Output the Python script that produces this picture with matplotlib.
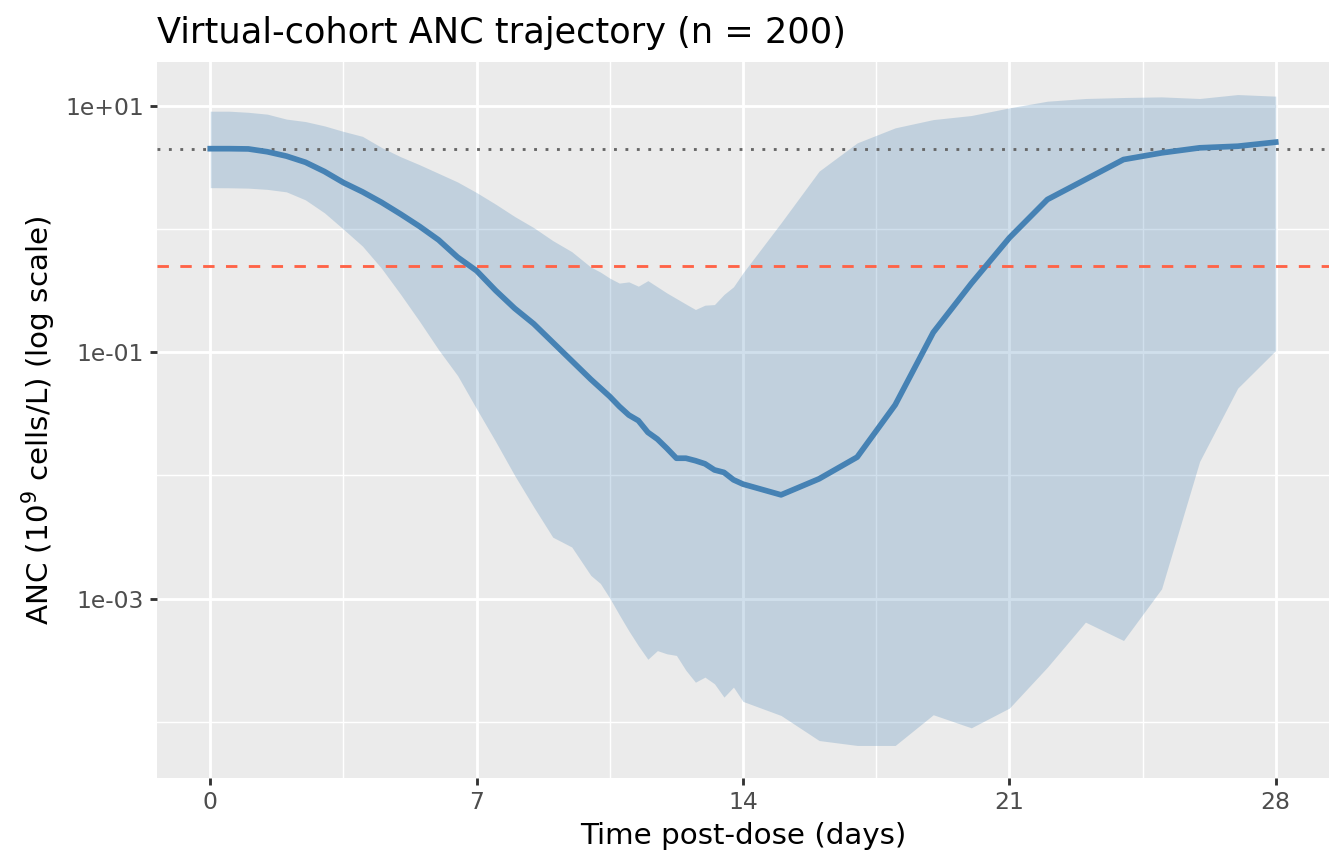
import numpy as np
import matplotlib.pyplot as plt
from matplotlib.ticker import FixedLocator, NullFormatter

# time grid (days post-dose)
days = [0, 0.5, 1.0, 1.5, 2.0, 2.5, 3.0, 3.5, 4.0, 4.5, 5.0, 5.5, 6.0, 6.5,
        7.0, 7.5, 8.0, 8.5, 9.0, 9.5, 10.0, 10.25, 10.5, 10.75, 11.0, 11.25,
        11.5, 11.75, 12.0, 12.25, 12.5, 12.75, 13.0, 13.25, 13.5, 13.75, 14.0,
        15, 16, 17, 18, 19, 20, 21, 22, 23, 24, 25, 26, 27, 28]

# log10 ANC
median_log10 = [0.65, 0.65, 0.648, 0.625, 0.59, 0.54, 0.465, 0.375, 0.30, 0.215,
                0.12, 0.02, -0.09, -0.23, -0.34, -0.50, -0.645, -0.77, -0.92,
                -1.07, -1.22, -1.29, -1.36, -1.44, -1.51, -1.555, -1.65, -1.705,
                -1.78, -1.86, -1.86, -1.88, -1.905, -1.955, -1.975, -2.035, -2.07,
                -2.157, -2.027, -1.851, -1.427, -0.84, -0.443, -0.073, 0.238,
                0.40, 0.562, 0.616, 0.657, 0.670, 0.703]

upper_log10 = [0.954, 0.954, 0.945, 0.93, 0.89, 0.87, 0.835, 0.79, 0.75, 0.66,
               0.585, 0.52, 0.45, 0.38, 0.294, 0.20, 0.10, 0.01, -0.095, -0.185,
               -0.31, -0.35, -0.40, -0.44, -0.43, -0.465, -0.42, -0.47, -0.52,
               -0.565, -0.61, -0.654, -0.619, -0.614, -0.532, -0.47, -0.357,
               0.049, 0.468, 0.697, 0.819, 0.886, 0.919, 0.981, 1.035, 1.057,
               1.065, 1.07, 1.057, 1.089, 1.076]

lower_log10 = [0.334, 0.333, 0.33, 0.32, 0.30, 0.235, 0.13, -0.003, -0.14, -0.32,
               -0.53, -0.75, -0.98, -1.19, -1.46, -1.725, -2.0, -2.255, -2.50,
               -2.58, -2.81, -2.875, -2.995, -3.13, -3.26, -3.38, -3.49, -3.42,
               -3.446, -3.459, -3.58, -3.676, -3.635, -3.689, -3.797, -3.716,
               -3.832, -3.946, -4.149, -4.189, -4.189, -3.94, -4.046, -3.886,
               -3.554, -3.189, -3.338, -2.919, -1.886, -1.292, -0.986]

baseline_anc = 4.4
threshold_anc = 0.5

x_breaks = [0, 7, 14, 21, 28]
x_minor = [3.5, 10.5, 17.5, 24.5]
y_breaks = [1e1, 1e-1, 1e-3]
y_labels = ['1e+01', '1e-01', '1e-03']
y_minor = [1e0, 1e-2, 1e-4]

t = np.array(days)
med = 10 ** np.array(median_log10)
hi = 10 ** np.array(upper_log10)
lo = 10 ** np.array(lower_log10)

plt.rcParams['font.family'] = ['DejaVu Sans']

fig = plt.figure(figsize=(7, 4.5), dpi=192)
ax = fig.add_axes([157 / 1344, 1 - 778 / 864, (1329 - 157) / 1344, (778 - 62) / 864])
ax.set_facecolor('#EBEBEB')
for s in ax.spines.values():
    s.set_visible(False)

ax.set_yscale('log')

# grid
for v in x_breaks:
    ax.axvline(v, color='white', lw=1.07, zorder=1)
for v in x_minor:
    ax.axvline(v, color='white', lw=0.53, zorder=1)
for v in y_breaks:
    ax.axhline(v, color='white', lw=1.07, zorder=1)
for v in y_minor:
    ax.axhline(v, color='white', lw=0.53, zorder=1)

ax.fill_between(t, lo, hi, color='#4682B4', alpha=0.25, lw=0, zorder=2)
ax.axhline(baseline_anc, color='#666666', lw=1.07, ls=(0, (1, 3)), zorder=3)
ax.axhline(threshold_anc, color='#FF6347', lw=1.07, ls=(0, (4, 4)), zorder=3)
ax.plot(t, med, color='#4682B4', lw=2.13, zorder=4, solid_joinstyle='round')

# ggplot-like expansion
xr = max(days) - min(days)
ax.set_xlim(min(days) - 0.05 * xr, max(days) + 0.05 * xr)
ymin, ymax = min(lower_log10), max(upper_log10)
yr = ymax - ymin
ax.set_ylim(10 ** (ymin - 0.05 * yr), 10 ** (ymax + 0.05 * yr))

ax.xaxis.set_major_locator(FixedLocator(x_breaks))
ax.xaxis.set_minor_locator(FixedLocator(x_minor))
ax.yaxis.set_major_locator(FixedLocator(y_breaks))
ax.yaxis.set_minor_locator(FixedLocator(y_minor))
ax.yaxis.set_minor_formatter(NullFormatter())
ax.set_xticklabels([str(v) for v in x_breaks])
ax.set_yticklabels(y_labels)
ax.tick_params(which='major', length=2.75, width=1.07, color='#333333',
               labelsize=8.8, labelcolor='#4D4D4D', pad=2.2)
ax.tick_params(which='minor', length=0)

ax.set_xlabel('Time post-dose (days)', fontsize=11, color='black', labelpad=2.75)
ax.set_ylabel('ANC (10$^{9}$ cells/L) (log scale)', fontsize=11, color='black',
              labelpad=2.75)
ax.set_title('Virtual-cohort ANC trajectory (n = 200)', loc='left', fontsize=13.2,
             color='black', pad=7)

fig.savefig('out.png', dpi=192)
